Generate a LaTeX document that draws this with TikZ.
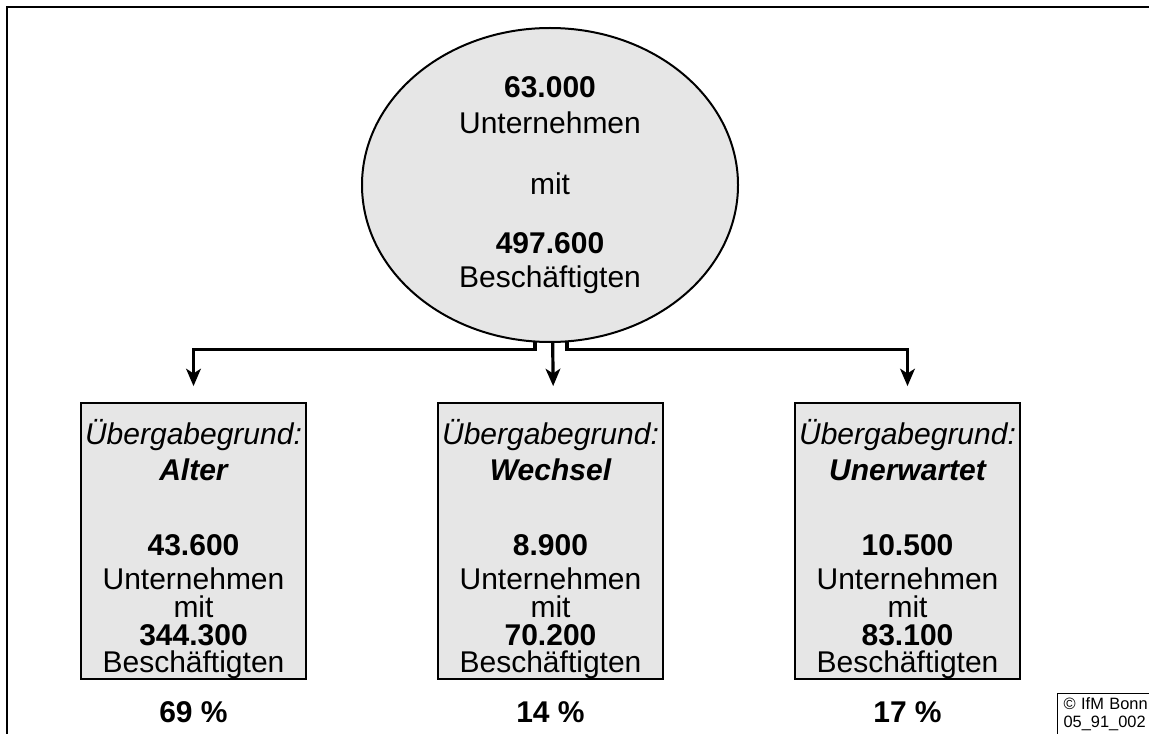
\documentclass[tikz,border=0pt]{standalone}
\usepackage{fontspec}
\setmainfont{Liberation Sans}
\usetikzlibrary{arrows.meta,shapes.geometric}
\definecolor{boxgray}{RGB}{230,230,230}
\begin{document}
\begin{tikzpicture}[x=0.75pt,y=-0.75pt,
  txt/.style={font=\fontsize{22.5}{27}\selectfont, anchor=base, inner sep=0pt},
  bt/.style={txt, font=\fontsize{22.5}{27}\selectfont\bfseries},
  it/.style={txt, font=\fontsize{22.5}{27}\selectfont\itshape},
  bit/.style={txt, font=\fontsize{22.5}{27}\selectfont\bfseries\itshape},
  ell/.style={ellipse, draw, line width=1.5pt, fill=boxgray, minimum width=282pt, minimum height=235.5pt, inner sep=0pt},
  gbox/.style={rectangle, draw, line width=1.3pt, fill=boxgray, minimum width=168.75pt, minimum height=207pt, inner sep=0pt},
  conn/.style={line width=2.4pt, -{Stealth[length=13pt,width=11pt,inset=3.5pt]}},
  cbox/.style={rectangle, draw, line width=0.9pt, anchor=north west, align=left, inner xsep=4.5pt, inner ysep=3pt, font=\fontsize{12.3}{13.5}\selectfont, text width=90pt}
]
\useasboundingbox (0,0) rectangle (1149,734);
\clip (0,0) rectangle (1149,734);
% outer frame
\draw[line width=1.6pt] (1170,7) -- (7,7) -- (7,760);

% ellipse
\node[ell] (ell) at (550,185) {};
\node[bt] (e1) at (550,98) {63.000};
\node[txt] (e2) at (550,134) {Unternehmen};
\node[txt] (e3) at (550,195) {mit};
\node[bt] (e4) at (550,254) {497.600};
\node[txt] (e5) at (550,287) {Beschäftigten};

% boxes
\node[gbox] (b1) at (193.5,541) {};
\node[gbox] (b2) at (550.5,541) {};
\node[gbox] (b3) at (907.5,541) {};

% box 1
\node[it]  (a1) at (193.5,444) {Übergabegrund:};
\node[bit] (a2) at (193.5,480) {Alter};
\node[bt]  (a3) at (193.5,555) {43.600};
\node[txt] (a4) at (193.5,589) {Unternehmen};
\node[txt] (a5) at (193.5,617) {mit};
\node[bt]  (a6) at (193.5,645) {344.300};
\node[txt] (a7) at (193.5,672) {Beschäftigten};
% box 2
\node[it]  (m1) at (550.5,444) {Übergabegrund:};
\node[bit] (m2) at (550.5,480) {Wechsel};
\node[bt]  (m3) at (550.5,555) {8.900};
\node[txt] (m4) at (550.5,589) {Unternehmen};
\node[txt] (m5) at (550.5,617) {mit};
\node[bt]  (m6) at (550.5,645) {70.200};
\node[txt] (m7) at (550.5,672) {Beschäftigten};
% box 3
\node[it]  (r1) at (907.5,444) {Übergabegrund:};
\node[bit] (r2) at (907.5,480) {Unerwartet};
\node[bt]  (r3) at (907.5,555) {10.500};
\node[txt] (r4) at (907.5,589) {Unternehmen};
\node[txt] (r5) at (907.5,617) {mit};
\node[bt]  (r6) at (907.5,645) {83.100};
\node[txt] (r7) at (907.5,672) {Beschäftigten};

% percentages
\node[bt] (p1) at (193.5,722) {69 \%};
\node[bt] (p2) at (550.5,722) {14 \%};
\node[bt] (p3) at (907.5,722) {17 \%};

% connectors
\draw[conn] ([xshift=-11.25pt,yshift=1pt]ell.south) |- ([yshift=39.75pt]b1.north) -- ([yshift=12pt]b1.north);
\draw[conn] ([xshift=2pt,yshift=1pt]ell.south) -- ([xshift=2pt,yshift=12pt]b2.north);
\draw[conn] ([xshift=12.75pt,yshift=1pt]ell.south) |- ([yshift=39.75pt]b3.north) -- ([yshift=12pt]b3.north);

% copyright
\node[cbox] (cr) at (1057,693) {© IfM Bonn\\05\_91\_002};
\end{tikzpicture}
\end{document}
